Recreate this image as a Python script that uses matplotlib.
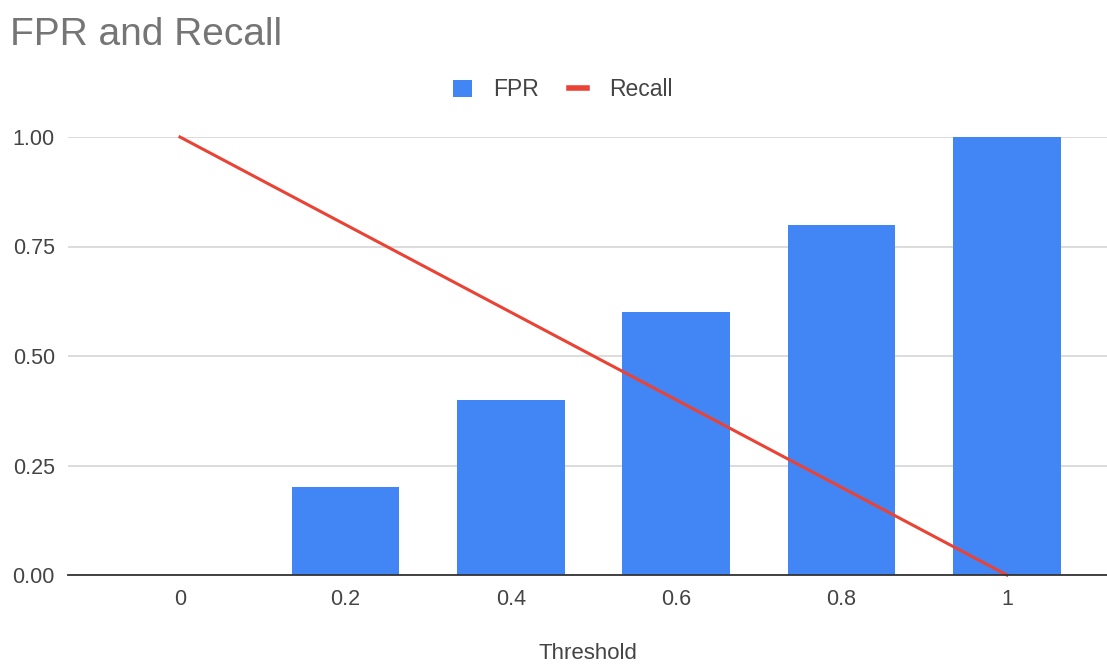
import matplotlib.pyplot as plt
from matplotlib.lines import Line2D
from matplotlib.patches import Patch

thresholds = ["0", "0.2", "0.4", "0.6", "0.8", "1"]
fpr = [0.0, 0.2, 0.4, 0.6, 0.8, 1.0]
recall = [1.0, 0.8, 0.6, 0.4, 0.2, 0.0]

BLUE = "#4285f4"
RED = "#ea4335"
TEXT = "#444444"

plt.rcParams["font.family"] = ["Liberation Sans", "DejaVu Sans"]

W, H = 1107, 666
fig = plt.figure(figsize=(W / 100, H / 100), dpi=100)
ax = fig.add_axes([68 / W, (H - 575) / H, (W - 68) / W, 438 / H])

x = list(range(len(thresholds)))
ax.bar(x, fpr, width=0.65, color=BLUE, zorder=2)
ax.plot(x, recall, color=RED, lw=2.2, zorder=3, clip_on=False)

ax.set_xlim(-0.677, 5.605)
ax.set_ylim(0, 1)
ax.set_yticks([0, 0.25, 0.5, 0.75, 1.0])
ax.set_yticklabels(["0.00", "0.25", "0.50", "0.75", "1.00"])
ax.set_xticks(x)
ax.set_xticklabels(thresholds)
ax.tick_params(axis="both", length=0, labelsize=15.5, labelcolor=TEXT)
ax.tick_params(axis="y", pad=9.4)
ax.tick_params(axis="x", pad=10)
ax.grid(axis="y", color="#d9d9d9", lw=1.3, zorder=0)
ax.set_axisbelow(True)
for side in ("top", "right", "left"):
    ax.spines[side].set_visible(False)
ax.spines["bottom"].set_color("#333333")
ax.spines["bottom"].set_linewidth(1.3)
ax.spines["bottom"].set_zorder(4)

ax.set_xlabel("Threshold", fontsize=16, color=TEXT, labelpad=24)

fig.text(10 / W, 1 - 45 / H, "FPR and Recall", fontsize=28, color="#757575", va="baseline", ha="left")

handles = [
    Patch(facecolor=BLUE, edgecolor="none", label="FPR"),
    Line2D([0], [0], color=RED, lw=4, label="Recall"),
]
fig.legend(handles=handles, loc="center", bbox_to_anchor=(563 / W, 1 - 90 / H), ncol=2,
           frameon=False, fontsize=16.5, labelcolor=TEXT, handlelength=0.8, handleheight=0.75,
           columnspacing=1.3, handletextpad=0.95)

fig.savefig("out.png", dpi=100)
